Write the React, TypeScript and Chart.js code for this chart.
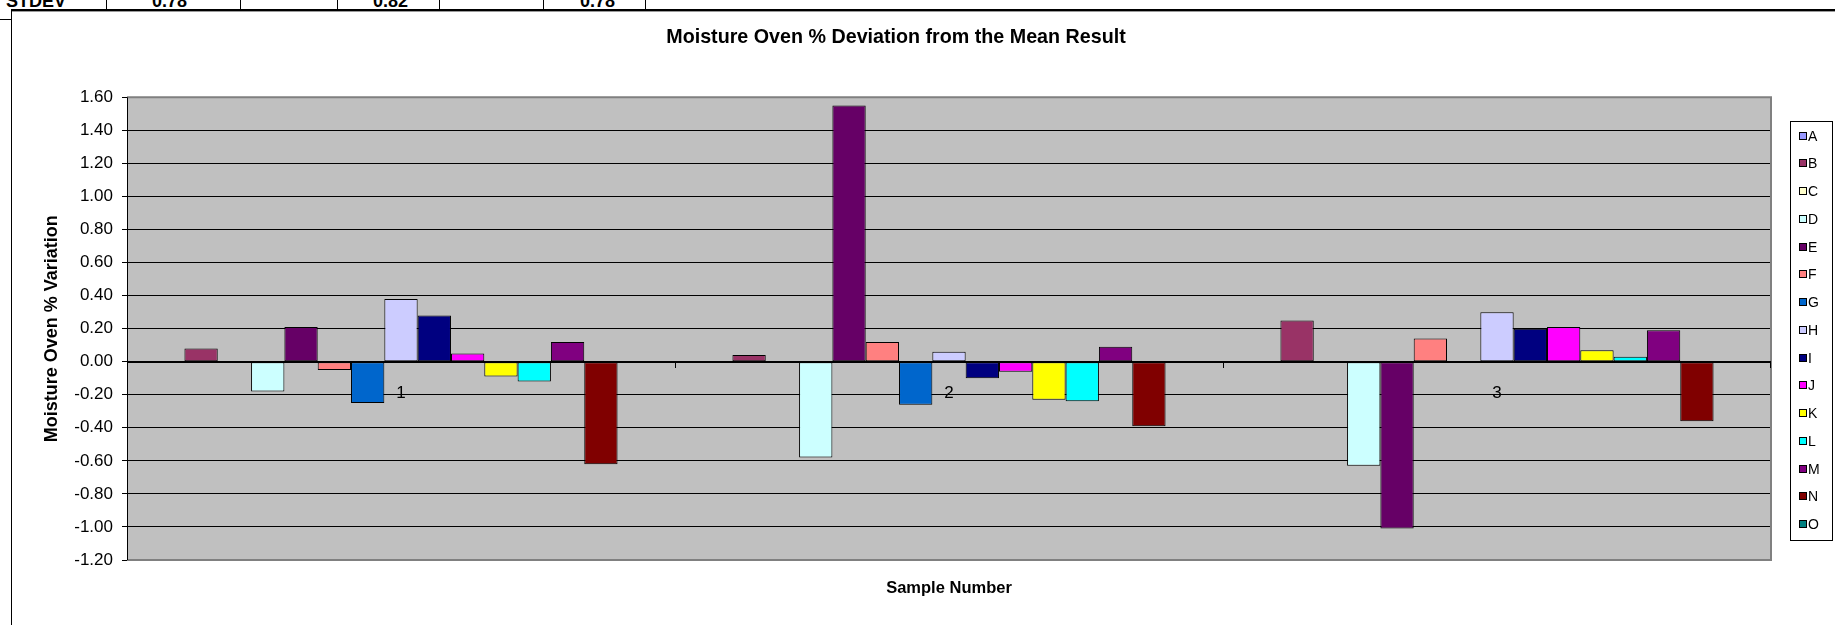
import React, { useEffect, useRef } from "react";
import { Chart, registerables } from "chart.js";

Chart.register(...registerables);

const FONT = "'Liberation Sans', Arial, Helvetica, sans-serif";

// ---- data ----
const categories = ["1", "2", "3"];
const seriesNames = ["A", "B", "C", "D", "E", "F", "G", "H", "I", "J", "K", "L", "M", "N", "O"];
const seriesColors = [
  "#9999FF", "#993366", "#FFFFCC", "#CCFFFF", "#660066", "#FF8080", "#0066CC", "#CCCCFF",
  "#000080", "#FF00FF", "#FFFF00", "#00FFFF", "#800080", "#800000", "#008080",
];
const A = [null, null, null];
const B = [0.08, 0.04, 0.25];
const C = [null, null, null];
const D = [-0.18, -0.58, -0.63];
const E = [0.21, 1.55, -1.01];
const F = [-0.05, 0.12, 0.14];
const G = [-0.25, -0.26, -0.005];
const H = [0.38, 0.06, 0.3];
const I = [0.28, -0.1, 0.2];
const J = [0.05, -0.06, 0.21];
const K = [-0.09, -0.23, 0.07];
const L = [-0.12, -0.24, 0.03];
const M = [0.12, 0.09, 0.19];
const N = [-0.62, -0.39, -0.36];
const O = [null, null, null];
const seriesData = [A, B, C, D, E, F, G, H, I, J, K, L, M, N, O];

const yMin = -1.2;
const yMax = 1.6;
const yStep = 0.2;

const chartTitle = "Moisture Oven % Deviation from the Mean Result";
const yTitle = "Moisture Oven % Variation";
const xTitle = "Sample Number";

// spreadsheet cells peeking above the chart
const cellTexts = [
  { text: "STDEV", x: 6 },
  { text: "0.78", x: 152 },
  { text: "0.82", x: 373 },
  { text: "0.78", x: 580 },
];
const cellLines = [106, 240, 337, 439, 543, 645];

const decorPlugin = {
  id: "excelDecor",
  beforeDraw(chart: any) {
    const { ctx, chartArea: a } = chart;
    ctx.save();
    ctx.fillStyle = "#C0C0C0";
    ctx.fillRect(a.left, a.top, a.right - a.left, a.bottom - a.top);
    ctx.restore();
  },
  afterDatasetsDraw(chart: any) {
    const { ctx, chartArea: a, scales } = chart;
    const xs = scales.x;
    const ys = scales.y;
    const y0 = Math.round(ys.getPixelForValue(0));
    ctx.save();
    // plot border (grey)
    ctx.strokeStyle = "#808080";
    ctx.lineWidth = 2;
    ctx.beginPath();
    ctx.moveTo(a.left, a.top);
    ctx.lineTo(a.right, a.top);
    ctx.lineTo(a.right, a.bottom);
    ctx.lineTo(a.left, a.bottom);
    ctx.stroke();
    // value axis line
    ctx.strokeStyle = "#000";
    ctx.lineWidth = 1;
    ctx.beginPath();
    ctx.moveTo(Math.round(a.left) + 0.5, a.top);
    ctx.lineTo(Math.round(a.left) + 0.5, a.bottom);
    ctx.stroke();
    // category axis at zero
    ctx.lineWidth = 2;
    ctx.beginPath();
    ctx.moveTo(a.left, y0);
    ctx.lineTo(a.right, y0);
    ctx.stroke();
    ctx.lineWidth = 1;
    ctx.beginPath();
    const n = categories.length;
    for (let i = 0; i <= n; i++) {
      let px;
      if (i === 0) px = a.left;
      else if (i === n) px = a.right - 1;
      else px = (xs.getPixelForValue(i - 1) + xs.getPixelForValue(i)) / 2;
      px = Math.round(px) + 0.5;
      ctx.moveTo(px, y0);
      ctx.lineTo(px, y0 + 6);
    }
    ctx.stroke();
    // category labels
    ctx.fillStyle = "#000";
    ctx.font = `17px ${FONT}`;
    ctx.textAlign = "center";
    ctx.textBaseline = "middle";
    categories.forEach((c, i) => {
      ctx.fillText(c, xs.getPixelForValue(i), y0 + 31);
    });
    ctx.restore();
  },
  afterDraw(chart: any) {
    const { ctx } = chart;
    const boxL = 1790.5;
    const boxR = 1832.5;
    const boxT = 121.5;
    const boxB = 540.5;
    ctx.save();
    ctx.fillStyle = "#FFFFFF";
    ctx.fillRect(boxL, boxT, boxR - boxL, boxB - boxT);
    ctx.strokeStyle = "#000";
    ctx.lineWidth = 1;
    ctx.strokeRect(boxL, boxT, boxR - boxL, boxB - boxT);
    const items = chart.data.datasets;
    const first = 135.5;
    const step = 27.75;
    ctx.font = `14px ${FONT}`;
    ctx.textAlign = "left";
    ctx.textBaseline = "middle";
    items.forEach((ds: any, i: number) => {
      const cy = Math.round(first + step * i);
      ctx.fillStyle = ds.backgroundColor;
      ctx.fillRect(1799, cy - 3, 7, 7);
      ctx.strokeStyle = "#000";
      ctx.strokeRect(1799.5, cy - 3.5, 7, 7);
      ctx.fillStyle = "#000";
      ctx.fillText(ds.label, 1808, cy + 1);
    });
    ctx.restore();
  },
};

export default function App() {
  const ref = useRef<HTMLCanvasElement | null>(null);

  useEffect(() => {
    if (!ref.current) return;
    const near = (v: number, t: number) => Math.abs(v - t) < 1e-6;
    const chart = new Chart(ref.current, {
      type: "bar",
      data: {
        labels: categories,
        datasets: seriesNames.map((name, i) => ({
          label: name,
          data: seriesData[i] as any,
          backgroundColor: seriesColors[i],
          borderColor: "#000000",
          borderWidth: 1,
          borderSkipped: false,
          categoryPercentage: 0.912,
          barPercentage: 1.0,
        })),
      },
      options: {
        animation: false,
        responsive: false,
        devicePixelRatio: 1,
        layout: { padding: { left: 21, right: 64, top: 0, bottom: 0 } },
        plugins: {
          legend: { display: false },
          tooltip: { enabled: false },
          title: {
            display: true,
            text: chartTitle,
            color: "#000",
            font: { family: FONT, size: 19.7, weight: "bold" },
            padding: { top: 26, bottom: 47.7 },
          },
        },
        scales: {
          x: {
            type: "category",
            grid: { display: false },
            border: { display: false },
            ticks: { display: false },
            title: {
              display: true,
              text: xTitle,
              color: "#000",
              font: { family: FONT, size: 16.5, weight: "bold" },
              padding: { top: 0, bottom: 27 },
            },
            afterFit(scale: any) {
              scale.height = 65;
            },
          },
          y: {
            type: "linear",
            min: yMin,
            max: yMax,
            ticks: {
              stepSize: yStep,
              color: "#000",
              font: { family: FONT, size: 17 },
              padding: 9,
              callback: (v: any) => Number(v).toFixed(2),
            },
            grid: {
              color: (c: any) =>
                c.tick && (near(c.tick.value, yMin) || near(c.tick.value, yMax)) ? "rgba(0,0,0,0)" : "#000000",
              lineWidth: 1,
              tickLength: 5,
              tickColor: "#000000",
              drawTicks: true,
            },
            border: { display: false },
            title: {
              display: true,
              text: yTitle,
              color: "#000",
              font: { family: FONT, size: 18, weight: "bold" },
              padding: { top: 20, bottom: 0 },
            },
            afterFit(scale: any) {
              scale.width = 106;
            },
          },
        },
      },
      plugins: [decorPlugin],
    } as any);
    return () => chart.destroy();
  }, []);

  return (
    <div style={{ position: "fixed", left: 0, top: 0, width: 1835, height: 625, background: "#fff", overflow: "hidden" }}>
      {cellTexts.map((c, i) => (
        <div
          key={"t" + i}
          style={{
            position: "absolute",
            left: c.x,
            top: -8,
            font: `bold 18px ${FONT}`,
            lineHeight: "18px",
            color: "#000",
            whiteSpace: "nowrap",
          }}
        >
          {c.text}
        </div>
      ))}
      {cellLines.map((x, i) => (
        <div key={"l" + i} style={{ position: "absolute", left: x, top: 0, width: 1, height: 9, background: "#000" }} />
      ))}
      <div style={{ position: "absolute", left: 0, top: 19, width: 11, height: 1, background: "#000" }} />
      <div style={{ position: "absolute", left: 11, top: 9, width: 1830, height: 2, background: "#000" }} />
      <div style={{ position: "absolute", left: 11, top: 11, width: 1830, height: 1, background: "#9a9a9a" }} />
      <div style={{ position: "absolute", left: 11, top: 9, width: 1, height: 630, background: "#000" }} />
      <canvas ref={ref} width={1835} height={625} style={{ position: "absolute", left: 0, top: 0 }} />
    </div>
  );
}
